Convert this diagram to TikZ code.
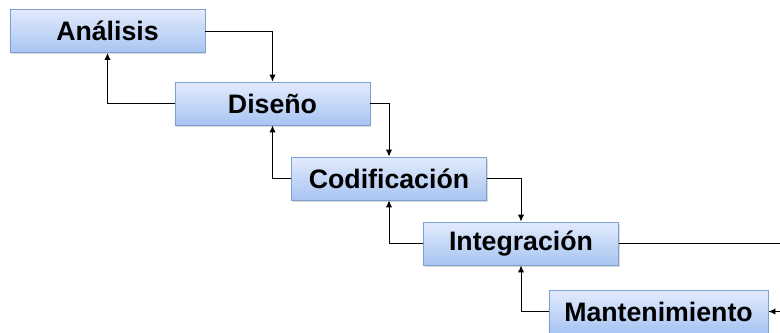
\documentclass[tikz,border=0pt]{standalone}
\usepackage{fontspec}
\setmainfont{Liberation Sans}
\usepackage{xcolor}
\usetikzlibrary{arrows.meta,shadows}
\definecolor{phasetop}{HTML}{E2EBFC}
\definecolor{phasebot}{HTML}{A8C4F2}
\definecolor{phaseline}{HTML}{7F9FD0}
\tikzset{
    phase/.style={
        rectangle, draw=phaseline, line width=0.6pt,
        top color=phasetop, bottom color=phasebot,
        minimum width=4.875cm, minimum height=1.075cm, inner sep=0pt,
        align=center, font=\fontsize{19}{22}\selectfont\bfseries,
        drop shadow={shadow xshift=0.8pt, shadow yshift=-1.2pt, opacity=0.25, fill=black!60}
    },
    arrow/.style={-{Latex[length=5pt,width=4.5pt]}, line width=0.7pt},
    relation/.style={draw, line width=0.7pt}
}
\begin{document}
\begin{tikzpicture}[x=0.025cm, y=-0.025cm]
\useasboundingbox (0,0) rectangle (780,332);

% Phases
\node[phase] (analisis)      at (107.5, 31)  {Análisis};
\node[phase] (diseno)        at (272.5, 103.5) {Diseño};
\node[phase] (codificacion)  at (389, 178.5) {Codificación};
\node[phase] (integracion)   at (521, 243.5) {Integración};
\node[phase, minimum width=5.475cm] (mantenimiento) at (658.5, 311.5) {Mantenimiento};

% Forward flow
\draw[arrow] (analisis.east)     -| (diseno.north);
\draw[arrow] (diseno.east)       -| (codificacion.north);
\draw[arrow] (codificacion.east) -| (integracion.north);

% Feedback
\draw[arrow] (diseno.west)        -| (analisis.south);
\draw[arrow] (codificacion.west)  -| (diseno.south);
\draw[arrow] (integracion.west)   -| (codificacion.south);
\draw[arrow] (mantenimiento.west) -| (integracion.south);

% Loop to maintenance (leaves the frame)
\coordinate (loop) at (820, 280);
\draw[arrow] (integracion.east) -| (loop) |- (mantenimiento.east);

\end{tikzpicture}
\end{document}
